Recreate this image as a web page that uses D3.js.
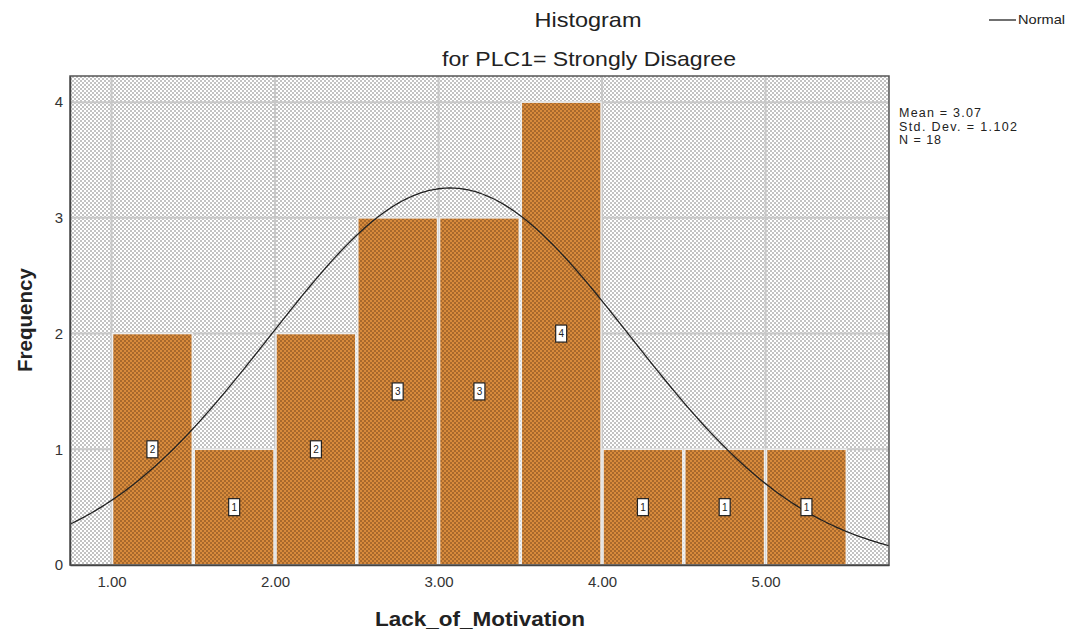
<!DOCTYPE html>
<html>
<head>
<meta charset="utf-8">
<script src="https://cdn.jsdelivr.net/npm/d3@7/dist/d3.min.js"></script>
<style>
  html, body { margin: 0; padding: 0; background: #fff; }
  svg { display: block; }
</style>
</head>
<body>
<svg id="chart" width="1068" height="632"></svg>
<script>
// Histogram of Lack_of_Motivation for PLC1 = Strongly Disagree
const binStarts = [1.0, 1.5, 2.0, 2.5, 3.0, 3.5, 4.0, 4.5, 5.0];
const binWidth = 0.5;
const counts = [2, 1, 2, 3, 3, 4, 1, 1, 1];
const xTicks = [1, 2, 3, 4, 5];
const yTicks = [0, 1, 2, 3, 4];
const stats = { mean: 3.07, sd: 1.102, n: 18 };
const statLines = ["Mean = 3.07", "Std. Dev. = 1.102", "N = 18"];

const svg = d3.select("#chart");
const plot = { left: 70, top: 76, right: 889, bottom: 565 };

const x = d3.scaleLinear().domain([0.746, 5.755]).range([plot.left, plot.right]);
const y = d3.scaleLinear().domain([0, 4.226]).range([plot.bottom, plot.top]);

// Fill patterns: grey stipple for the plot background, dotted brown for the bars
const defs = svg.append("defs");
const bgPat = defs.append("pattern").attr("id", "bgDots")
  .attr("width", 4).attr("height", 4).attr("patternUnits", "userSpaceOnUse");
bgPat.append("rect").attr("width", 4).attr("height", 4).attr("fill", "#ffffff");
bgPat.append("rect").attr("x", 0).attr("y", 0).attr("width", 2).attr("height", 2).attr("fill", "#c2c2c2");
bgPat.append("rect").attr("x", 2).attr("y", 2).attr("width", 2).attr("height", 2).attr("fill", "#c2c2c2");

const barPat = defs.append("pattern").attr("id", "barDots")
  .attr("width", 4).attr("height", 4).attr("patternUnits", "userSpaceOnUse");
barPat.append("rect").attr("width", 4).attr("height", 4).attr("fill", "#d88b3c");
barPat.append("rect").attr("x", 0).attr("y", 0).attr("width", 2).attr("height", 2).attr("fill", "#a8692c");
barPat.append("rect").attr("x", 2).attr("y", 2).attr("width", 2).attr("height", 2).attr("fill", "#a8692c");

// Plot background
svg.append("rect")
  .attr("x", plot.left).attr("y", plot.top)
  .attr("width", plot.right - plot.left).attr("height", plot.bottom - plot.top)
  .attr("fill", "url(#bgDots)");

// Grid lines
const grid = svg.append("g").attr("stroke", "#c8c8c8").attr("stroke-width", 2);
grid.selectAll("line.v").data(xTicks).join("line").attr("class", "v")
  .attr("x1", d => x(d)).attr("x2", d => x(d))
  .attr("y1", plot.top).attr("y2", plot.bottom);
grid.selectAll("line.h").data(yTicks.slice(1)).join("line").attr("class", "h")
  .attr("x1", plot.left).attr("x2", plot.right)
  .attr("y1", d => y(d)).attr("y2", d => y(d));

// Bars
const bins = binStarts.map((s, i) => ({ x0: s, x1: s + binWidth, n: counts[i] }));
svg.append("g").selectAll("rect").data(bins).join("rect")
  .attr("x", d => x(d.x0) + 1)
  .attr("width", d => x(d.x1) - x(d.x0) - 2)
  .attr("y", d => y(d.n))
  .attr("height", d => y(0) - y(d.n))
  .attr("fill", "url(#barDots)")
  .attr("stroke", "#eeeeee").attr("stroke-width", 1.5);

// Normal curve scaled to the histogram: N * binWidth * pdf
const normal = v => stats.n * binWidth *
  Math.exp(-0.5 * Math.pow((v - stats.mean) / stats.sd, 2)) / (stats.sd * Math.sqrt(2 * Math.PI));
const curvePts = d3.range(0, 401).map(i => {
  const v = x.domain()[0] + (x.domain()[1] - x.domain()[0]) * i / 400;
  return [v, normal(v)];
});
svg.append("path")
  .datum(curvePts)
  .attr("fill", "none").attr("stroke", "#222").attr("stroke-width", 1.3)
  .attr("d", d3.line().x(d => x(d[0])).y(d => y(d[1])).curve(d3.curveBasis));

// Count labels in the middle of each bar
const lab = svg.append("g").selectAll("g").data(bins).join("g")
  .attr("transform", d => `translate(${x((d.x0 + d.x1) / 2)},${y(d.n / 2)})`);
lab.append("rect")
  .attr("x", -5.5).attr("y", -8.5).attr("width", 11).attr("height", 17)
  .attr("fill", "#fff").attr("stroke", "#222").attr("stroke-width", 1.2);
lab.append("text")
  .attr("text-anchor", "middle").attr("dy", "0.35em")
  .attr("font-family", "Liberation Sans, Arial, sans-serif").attr("font-size", 10)
  .attr("fill", "#222")
  .text(d => d.n);

// Frame
svg.append("rect")
  .attr("x", plot.left).attr("y", plot.top)
  .attr("width", plot.right - plot.left).attr("height", plot.bottom - plot.top)
  .attr("fill", "none").attr("stroke", "#555").attr("stroke-width", 1.5);

// Axes
const xAxis = svg.append("g").attr("transform", `translate(0,${plot.bottom})`)
  .call(d3.axisBottom(x).tickValues(xTicks).tickFormat(d3.format(".2f")).tickSize(0).tickPadding(11));
const yAxis = svg.append("g").attr("transform", `translate(${plot.left},0)`)
  .call(d3.axisLeft(y).tickValues(yTicks).tickFormat(d3.format("d")).tickSize(0).tickPadding(7));
[xAxis, yAxis].forEach(a => {
  a.select(".domain").attr("stroke", "#444").attr("stroke-width", 1.5);
  a.selectAll("text").attr("font-family", "Liberation Sans, Arial, sans-serif")
    .attr("font-size", 15).attr("fill", "#333");
});

// Titles (condensed look via textLength)
const sans = "Liberation Sans, Arial, sans-serif";
svg.append("text").attr("x", 588).attr("y", 27).attr("text-anchor", "middle")
  .attr("font-family", sans).attr("font-size", 21).attr("fill", "#222")
  .attr("textLength", 107).attr("lengthAdjust", "spacingAndGlyphs").text("Histogram");
svg.append("text").attr("x", 589).attr("y", 66).attr("text-anchor", "middle")
  .attr("font-family", sans).attr("font-size", 21).attr("fill", "#222")
  .attr("textLength", 294).attr("lengthAdjust", "spacingAndGlyphs").text("for PLC1= Strongly Disagree");

svg.append("text").attr("x", 480).attr("y", 626).attr("text-anchor", "middle")
  .attr("font-family", sans).attr("font-weight", "bold")
  .attr("font-size", 21).attr("fill", "#222")
  .attr("textLength", 210).attr("lengthAdjust", "spacingAndGlyphs").text("Lack_of_Motivation");
svg.append("text").attr("transform", "translate(32,320) rotate(-90)").attr("text-anchor", "middle")
  .attr("font-family", sans).attr("font-weight", "bold")
  .attr("font-size", 21).attr("fill", "#222")
  .attr("textLength", 104).attr("lengthAdjust", "spacingAndGlyphs").text("Frequency");

// Legend
svg.append("line").attr("x1", 989).attr("x2", 1016).attr("y1", 20).attr("y2", 20)
  .attr("stroke", "#222").attr("stroke-width", 1.3);
svg.append("text").attr("x", 1018).attr("y", 24)
  .attr("font-family", sans).attr("font-size", 13).attr("fill", "#222")
  .attr("textLength", 47).attr("lengthAdjust", "spacingAndGlyphs").text("Normal");

// Summary statistics
const statWidths = [82, 118, 42];
svg.append("g").selectAll("text").data(statLines).join("text")
  .attr("x", 899).attr("y", (d, i) => 117 + i * 13.5)
  .attr("font-family", sans).attr("font-size", 12.5)
  .attr("textLength", (d, i) => statWidths[i]).attr("lengthAdjust", "spacing")
  .attr("fill", "#222").text(d => d);
</script>
</body>
</html>
